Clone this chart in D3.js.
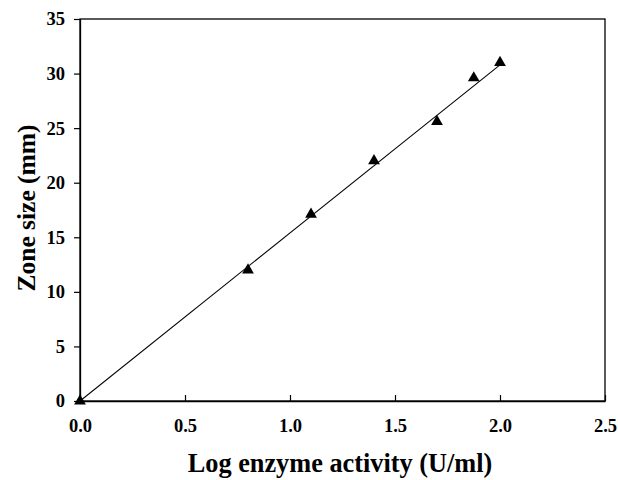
<!DOCTYPE html>
<html><head><meta charset="utf-8">
<script src="https://cdn.jsdelivr.net/npm/d3@7"></script>
<style>body{margin:0;background:#fff;} svg{display:block;}</style>
</head><body>
<svg id="c" width="618" height="480"></svg>
<script>
const xValues = [0, 0.8, 1.1, 1.4, 1.7, 1.875, 2.0];
const yValues = [0, 12, 17.1, 22.0, 25.6, 29.6, 31.0];
const fitLine = [[0, 0], [2.0, 30.8]];
const xTicks = [0, 0.5, 1.0, 1.5, 2.0, 2.5];
const yTicks = [0, 5, 10, 15, 20, 25, 30, 35];
const xTitle = "Log enzyme activity (U/ml)";
const yTitle = "Zone size (mm)";

const svg = d3.select("#c");
const m = {l: 80, r: 13, t: 19, b: 79};
const W = 618, H = 480;
const x = d3.scaleLinear().domain([0, 2.5]).range([m.l, W - m.r]);
const y = d3.scaleLinear().domain([0, 35]).range([H - m.b, m.t]);
const font = "'Liberation Serif','Times New Roman',serif";

// frame
svg.append("rect").attr("x", x(0)).attr("y", y(35)).attr("width", x(2.5) - x(0)).attr("height", y(0) - y(35))
  .attr("fill", "none").attr("stroke", "#000").attr("stroke-width", 1.3);

const xa = svg.append("g").attr("transform", `translate(0,${y(0)})`)
  .call(d3.axisBottom(x).tickValues(xTicks).tickFormat(d3.format(".1f")).tickSizeInner(-6).tickSizeOuter(0).tickPadding(18));
const ya = svg.append("g").attr("transform", `translate(${x(0)},0)`)
  .call(d3.axisLeft(y).tickValues(yTicks).tickFormat(d3.format("d")).tickSizeInner(6).tickSizeOuter(0).tickPadding(9));
[xa, ya].forEach(g => {
  g.select(".domain").attr("stroke-width", 1.3);
  g.selectAll(".tick line").attr("stroke-width", 1.2);
  g.selectAll("text").attr("font-family", font).attr("font-weight", "bold").attr("font-size", 18.5).attr("fill", "#000");
});

svg.append("line")
  .attr("x1", x(fitLine[0][0])).attr("y1", y(fitLine[0][1]))
  .attr("x2", x(fitLine[1][0])).attr("y2", y(fitLine[1][1]))
  .attr("stroke", "#000").attr("stroke-width", 1.1);

const tri = d3.symbol().type(d3.symbolTriangle).size(60);
svg.selectAll("path.pt").data(xValues).join("path").attr("class", "pt")
  .attr("d", tri).attr("fill", "#000")
  .attr("transform", (d, i) => `translate(${x(d)},${y(yValues[i])})`);

svg.append("text").attr("x", 340).attr("y", 472).attr("text-anchor", "middle")
  .attr("font-family", font).attr("font-weight", "bold").attr("font-size", 26.3).text(xTitle);
svg.append("text").attr("transform", `translate(35,208) rotate(-90)`).attr("text-anchor", "middle")
  .attr("font-family", font).attr("font-weight", "bold").attr("font-size", 25.5).text(yTitle);
</script>
</body></html>
